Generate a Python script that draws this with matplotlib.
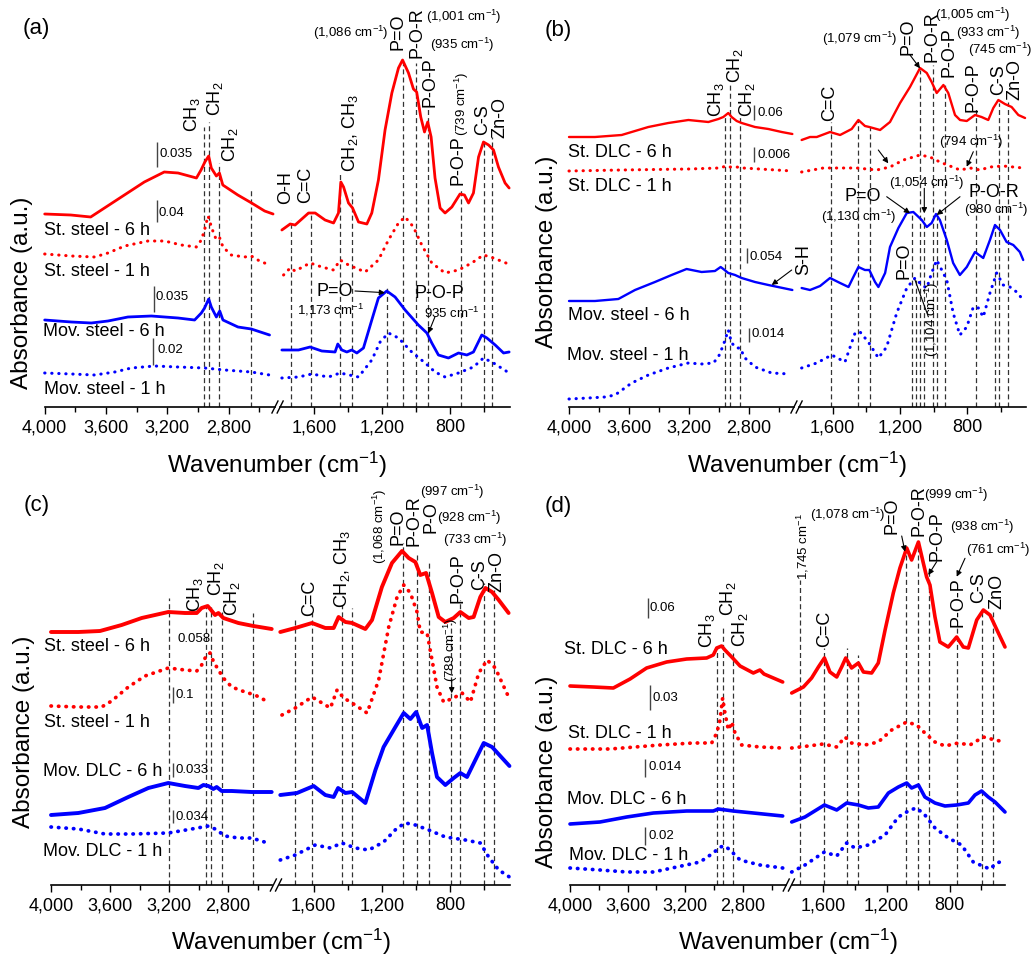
import matplotlib
matplotlib.use("Agg")
import matplotlib.pyplot as plt
from matplotlib.ticker import FixedLocator, FuncFormatter

plt.rcParams["font.family"] = ["Liberation Sans", "DejaVu Sans"]
plt.rcParams["mathtext.fontset"] = "custom"
plt.rcParams["mathtext.rm"] = "Liberation Sans"
plt.rcParams["mathtext.it"] = "Liberation Sans:italic"
plt.rcParams["mathtext.bf"] = "Liberation Sans:bold"

# ---------------- data (wavenumber in cm-1, absorbance in offset a.u.) ----------------
# panel (a)
a_st6_lw = [4000, 3830, 3700, 3610, 3480, 3350, 3220, 3130, 3010, 2980, 2955, 2930, 2913, 2880, 2860, 2838, 2740, 2650, 2565, 2510]
a_st6_ly = [193, 192, 190, 199, 212, 225, 235, 234, 229, 237, 245, 251, 239, 231, 234, 222, 212, 204, 196, 193]
a_st6_rw = [1792, 1743, 1714, 1635, 1596, 1538, 1488, 1459, 1445, 1429, 1400, 1376, 1341, 1292, 1263, 1224, 1185, 1145, 1106, 1082, 1047, 1018, 999, 975, 953, 934, 914, 891, 861, 832, 792, 744, 718, 694, 665, 635, 606, 576, 547, 518, 479, 455]
a_st6_ry = [177, 183, 182, 194, 194, 187, 184, 194, 225, 220, 204, 199, 185, 183, 194, 227, 277, 314, 339, 347, 334, 318, 315, 290, 275, 285, 270, 229, 199, 194, 200, 213, 212, 204, 214, 250, 265, 262, 257, 240, 224, 219]
a_st1_lw = [4000, 3826, 3674, 3587, 3478, 3326, 3217, 3109, 3011, 2978, 2957, 2935, 2924, 2913, 2880, 2858, 2837, 2783, 2696, 2652, 2598, 2533]
a_st1_ly = [153, 151, 150, 154, 161, 166, 166, 162, 160, 167, 177, 191, 187, 180, 167, 169, 160, 152, 150, 151, 146, 142]
a_st1_rw = [1782, 1743, 1714, 1626, 1557, 1488, 1449, 1400, 1302, 1224, 1165, 1106, 1067, 1018, 969, 910, 832, 753, 675, 606, 547, 459]
a_st1_ry = [132, 139, 136, 144, 140, 137, 147, 142, 135, 147, 167, 184, 190, 180, 162, 144, 134, 137, 144, 152, 149, 143]
a_mv6_lw = [4000, 3826, 3696, 3587, 3457, 3304, 3130, 3022, 2978, 2957, 2930, 2913, 2880, 2858, 2837, 2739, 2652, 2533]
a_mv6_ly = [87, 85, 84, 86, 90, 91, 89, 87, 94, 99, 108, 100, 90, 96, 87, 80, 78, 72]
a_mv6_rw = [1792, 1694, 1626, 1557, 1479, 1463, 1439, 1410, 1381, 1351, 1312, 1263, 1224, 1175, 1126, 1067, 989, 939, 910, 871, 812, 753, 704, 665, 616, 586, 537, 488, 455]
a_mv6_ry = [57, 57, 60, 56, 55, 63, 57, 55, 57, 54, 59, 87, 109, 116, 110, 97, 82, 74, 64, 52, 49, 54, 52, 55, 72, 69, 62, 54, 55]
a_mv1_lw = [4000, 3826, 3674, 3543, 3435, 3283, 3130, 2957, 2826, 2652, 2533]
a_mv1_ly = [34, 33, 32, 35, 39, 41, 40, 39, 37, 35, 32]
a_mv1_rw = [1792, 1694, 1616, 1518, 1449, 1341, 1263, 1214, 1165, 1106, 1028, 949, 891, 832, 753, 665, 606, 547, 455]
a_mv1_ry = [29, 30, 33, 30, 34, 30, 47, 65, 74, 69, 55, 44, 35, 30, 34, 40, 49, 44, 34]

# panel (b)
b_st6_lw = [4000, 3827, 3649, 3471, 3338, 3204, 3071, 3004, 2971, 2938, 2916, 2882, 2849, 2760, 2671, 2582, 2511]
b_st6_ly = [270, 270, 272, 280, 284, 287, 285, 288, 290, 294, 290, 286, 284, 280, 278, 275, 273]
b_st6_rw = [1785, 1735, 1695, 1616, 1556, 1487, 1447, 1408, 1382, 1318, 1259, 1199, 1140, 1080, 1040, 1011, 981, 941, 912, 872, 842, 802, 753, 714, 674, 644, 614, 575, 535, 495, 455]
b_st6_ry = [267, 270, 270, 275, 272, 278, 287, 281, 280, 277, 285, 304, 320, 339, 334, 325, 314, 322, 314, 292, 287, 286, 292, 290, 287, 299, 307, 303, 300, 292, 289]
b_st1_lw = [4000, 3650, 3200, 3000, 2949, 2927, 2882, 2840, 2510]
b_st1_ly = [236, 237, 238, 239, 241, 240, 240, 239, 236]
b_st1_rw = [1785, 1656, 1457, 1338, 1259, 1179, 1080, 1021, 962, 902, 842, 782, 723, 663, 585, 466]
b_st1_ry = [235, 239, 239, 237, 240, 247, 252, 250, 245, 241, 237, 239, 237, 240, 241, 239]
b_mv6_lw = [4000, 3827, 3671, 3560, 3427, 3316, 3216, 3116, 3027, 2989, 2971, 2938, 2893, 2849, 2760, 2671, 2511]
b_mv6_ly = [106, 106, 108, 117, 125, 132, 138, 135, 136, 140, 138, 134, 132, 129, 125, 122, 117]
b_mv6_rw = [1785, 1735, 1675, 1616, 1556, 1506, 1477, 1447, 1408, 1382, 1348, 1328, 1288, 1259, 1209, 1159, 1120, 1070, 1040, 1011, 985, 962, 921, 883, 843, 802, 753, 704, 664, 634, 604, 565, 525, 486, 466]
b_mv6_ry = [119, 117, 121, 129, 124, 120, 130, 140, 137, 137, 125, 120, 134, 160, 179, 194, 195, 187, 180, 184, 193, 187, 167, 144, 132, 140, 155, 149, 167, 182, 177, 165, 162, 155, 147]
b_mv1_lw = [4000, 3871, 3760, 3693, 3582, 3471, 3338, 3204, 3116, 3038, 3004, 2971, 2938, 2916, 2882, 2860, 2827, 2760, 2649, 2527]
b_mv1_ly = [8, 9, 10, 12, 24, 32, 39, 44, 43, 44, 50, 62, 77, 64, 59, 59, 49, 40, 34, 33]
b_mv1_rw = [1785, 1695, 1606, 1527, 1467, 1437, 1388, 1328, 1279, 1219, 1159, 1110, 1070, 1040, 1011, 981, 951, 921, 883, 843, 802, 763, 733, 704, 664, 624, 585, 545, 505, 466]
b_mv1_ry = [39, 44, 52, 45, 74, 75, 65, 49, 60, 94, 119, 129, 122, 119, 134, 147, 137, 127, 94, 72, 80, 100, 99, 90, 114, 134, 122, 120, 115, 107]

# panel (c)
c_st6_lw = [4000, 3815, 3668, 3521, 3385, 3205, 3092, 3012, 2979, 2938, 2915, 2888, 2865, 2832, 2730, 2628, 2504]
c_st6_ly = [253, 253, 254, 260, 267, 273, 272, 272, 277, 279, 275, 270, 272, 267, 262, 259, 256]
c_st6_rw = [1796, 1708, 1610, 1532, 1483, 1454, 1414, 1375, 1297, 1258, 1200, 1141, 1082, 1043, 1004, 975, 941, 906, 867, 828, 779, 740, 691, 662, 623, 593, 554, 515, 457]
c_st6_ry = [253, 257, 262, 257, 257, 268, 263, 262, 256, 265, 298, 322, 334, 327, 323, 310, 312, 292, 268, 263, 267, 273, 267, 268, 288, 297, 293, 285, 272]
c_st1_lw = [4000, 3815, 3657, 3589, 3476, 3363, 3205, 3092, 3012, 2979, 2945, 2922, 2900, 2877, 2832, 2775, 2685, 2617, 2527]
c_st1_ly = [179, 178, 178, 184, 198, 209, 217, 215, 214, 220, 230, 232, 224, 218, 207, 198, 193, 190, 183]
c_st1_rw = [1786, 1708, 1610, 1551, 1502, 1463, 1424, 1375, 1287, 1219, 1160, 1111, 1072, 1033, 994, 975, 935, 906, 877, 838, 779, 730, 681, 632, 583, 535, 495, 457]
c_st1_ry = [170, 177, 188, 182, 177, 195, 187, 182, 172, 205, 258, 288, 300, 292, 273, 253, 252, 225, 198, 183, 187, 192, 183, 212, 225, 217, 202, 188]
c_mv6_lw = [4000, 3815, 3634, 3476, 3340, 3205, 3092, 3001, 2967, 2933, 2900, 2877, 2843, 2775, 2640, 2504]
c_mv6_ly = [70, 72, 77, 88, 97, 102, 99, 97, 100, 99, 96, 98, 94, 94, 93, 93]
c_mv6_rw = [1796, 1698, 1600, 1532, 1483, 1457, 1414, 1375, 1297, 1238, 1190, 1121, 1072, 1033, 999, 964, 935, 906, 877, 828, 779, 740, 701, 652, 603, 554, 495, 452]
c_mv6_ry = [90, 92, 99, 90, 88, 97, 92, 93, 82, 115, 138, 158, 172, 166, 173, 157, 160, 132, 108, 100, 107, 112, 108, 125, 142, 138, 127, 119]
c_mv1_lw = [4000, 3815, 3634, 3453, 3205, 3046, 2933, 2888, 2820, 2730, 2640, 2531]
c_mv1_ly = [58, 56, 51, 51, 52, 56, 59, 56, 49, 47, 47, 42]
c_mv1_rw = [1796, 1708, 1591, 1502, 1434, 1356, 1277, 1190, 1111, 1062, 1004, 925, 828, 711, 623, 574, 515, 452]
c_mv1_ry = [25, 30, 40, 37, 42, 37, 35, 43, 57, 62, 60, 55, 48, 45, 42, 28, 15, 8]

# panel (d)
d_st6_lw = [4000, 3838, 3699, 3583, 3468, 3329, 3190, 3051, 3005, 2981, 2947, 2924, 2877, 2819, 2727, 2681, 2653, 2588, 2523]
d_st6_ly = [199, 198, 197, 206, 217, 223, 226, 227, 230, 237, 239, 235, 228, 219, 212, 215, 211, 207, 203]
d_st6_rw = [1800, 1726, 1674, 1631, 1593, 1558, 1515, 1484, 1458, 1421, 1378, 1346, 1294, 1252, 1209, 1157, 1115, 1072, 1041, 998, 967, 946, 925, 893, 862, 809, 756, 714, 682, 629, 587, 545, 492, 450]
d_st6_ry = [192, 198, 207, 218, 227, 213, 208, 218, 227, 217, 222, 213, 212, 222, 255, 292, 317, 337, 325, 343, 322, 308, 300, 268, 243, 238, 248, 238, 237, 265, 275, 270, 252, 238]
d_st1_lw = [4000, 3722, 3375, 3144, 3016, 2981, 2958, 2940, 2924, 2900, 2877, 2854, 2808, 2681, 2523]
d_st1_ly = [136, 136, 140, 142, 142, 152, 165, 187, 172, 155, 163, 152, 140, 138, 137]
d_st1_rw = [1800, 1695, 1600, 1515, 1463, 1421, 1336, 1252, 1167, 1072, 1009, 957, 893, 830, 746, 672, 587, 513, 450]
d_st1_ry = [137, 139, 141, 138, 148, 142, 140, 143, 155, 163, 160, 152, 143, 139, 142, 140, 148, 145, 143]
d_mv6_lw = [4000, 3792, 3606, 3421, 3190, 3005, 2970, 2866, 2727, 2523]
d_mv6_ly = [61, 63, 68, 72, 74, 74, 76, 74, 72, 69]
d_mv6_rw = [1800, 1716, 1593, 1515, 1452, 1378, 1315, 1252, 1188, 1125, 1072, 1041, 998, 957, 893, 830, 756, 682, 640, 598, 556, 513, 450]
d_mv6_ry = [63, 68, 80, 75, 82, 80, 77, 78, 92, 98, 102, 97, 100, 88, 82, 79, 80, 82, 90, 94, 88, 83, 73]
d_mv1_lw = [4000, 3792, 3606, 3421, 3259, 3097, 3005, 2958, 2924, 2889, 2819, 2681, 2523]
d_mv1_ly = [17, 15, 13, 13, 18, 23, 32, 38, 39, 35, 25, 20, 17]
d_mv1_rw = [1800, 1716, 1593, 1515, 1452, 1399, 1315, 1209, 1125, 1051, 1009, 957, 893, 809, 725, 651, 577, 545, 503, 461]
d_mv1_ry = [13, 20, 33, 29, 42, 37, 40, 50, 68, 75, 77, 70, 57, 47, 40, 23, 18, 16, 22, 24]

# band marker lines: wavenumber and top (a.u.)
a_lines_l = [2963, 2928, 2863, 2656]
a_tops_l = [280, 285, 244, 217]
a_lines_r = [1739, 1620, 1449, 1381, 1175, 1082, 1001, 935, 739, 602, 553]
a_tops_r = [187, 194, 234, 215, 120, 345, 344, 300, 217, 265, 270]
b_lines_l = [2960, 2927, 2860]
b_tops_l = [290, 324, 290]
b_lines_r = [1612, 1448, 1380, 1130, 1104, 1079, 1054, 1005, 980, 933, 745, 635, 610, 555]
b_tops_r = [285, 287, 280, 194, 127, 337, 190, 342, 190, 324, 299, 180, 304, 305]
c_lines_l = [3200, 2950, 2915, 2840, 2630]
c_tops_l = [287, 280, 278, 273, 272]
c_lines_r = [1712, 1610, 1434, 1375, 1075, 995, 926, 793, 740, 600, 540]
c_tops_r = [268, 272, 280, 277, 342, 330, 323, 262, 285, 302, 295]
d_lines_l = [2980, 2935, 2870]
d_tops_l = [238, 260, 232]
d_lines_r = [1750, 1595, 1452, 1378, 1075, 999, 933, 755, 598, 524]
d_tops_r = [305, 237, 237, 230, 338, 342, 312, 258, 275, 273]

# scale bars: wavenumber, bottom, top (a.u.), label
a_bars = [(3269, 240, 265, "0.035"), (3269, 185, 207, "0.04"), (3287, 95, 121, "0.035"), (3296, 42, 69, "0.02")]
b_bars = [(2765, 287, 302, "0.06"), (2765, 245, 260, "0.006"), (2811, 144, 159, "0.054"), (2800, 65, 79, "0.014")]
c_bars = [(3171, 182, 198, "0.1"), (3171, 108, 122, "0.033"), (3175, 62, 75, "0.034")]
d_bars = [(3456, 267, 287, "0.06"), (3444, 175, 200, "0.03"), (3479, 108, 126, "0.014"), (3479, 40, 58, "0.02")]

RED = "#ff0000"
BLUE = "#0000ff"
W, H = 1031, 956

fig = plt.figure(figsize=(W / 100, H / 100), dpi=100)

# panel geometry in pixels: left segment, right segment, baseline, top, line widths, dot pattern
geom = {
    "a": ((44.7, 274.6), (280.5, 510.0), 407, 0, 2.0, 2.2, (0, (0.1, 2.2))),
    "b": ((569.0, 794.0), (799.1, 1025.9), 407, 0, 1.7, 2.2, (0, (0.1, 2.2))),
    "c": ((51.0, 272.3), (279.6, 509.8), 885, 480, 2.8, 2.7, (0, (0.1, 1.9))),
    "d": ((570.0, 786.0), (791.7, 1005.0), 885, 480, 2.6, 2.7, (0, (0.1, 1.9))),
}

curves = {
    "a": [(RED, "-", a_st6_lw, a_st6_ly, a_st6_rw, a_st6_ry), (RED, ":", a_st1_lw, a_st1_ly, a_st1_rw, a_st1_ry),
          (BLUE, "-", a_mv6_lw, a_mv6_ly, a_mv6_rw, a_mv6_ry), (BLUE, ":", a_mv1_lw, a_mv1_ly, a_mv1_rw, a_mv1_ry)],
    "b": [(RED, "-", b_st6_lw, b_st6_ly, b_st6_rw, b_st6_ry), (RED, ":", b_st1_lw, b_st1_ly, b_st1_rw, b_st1_ry),
          (BLUE, "-", b_mv6_lw, b_mv6_ly, b_mv6_rw, b_mv6_ry), (BLUE, ":", b_mv1_lw, b_mv1_ly, b_mv1_rw, b_mv1_ry)],
    "c": [(RED, "-", c_st6_lw, c_st6_ly, c_st6_rw, c_st6_ry), (RED, ":", c_st1_lw, c_st1_ly, c_st1_rw, c_st1_ry),
          (BLUE, "-", c_mv6_lw, c_mv6_ly, c_mv6_rw, c_mv6_ry), (BLUE, ":", c_mv1_lw, c_mv1_ly, c_mv1_rw, c_mv1_ry)],
    "d": [(RED, "-", d_st6_lw, d_st6_ly, d_st6_rw, d_st6_ry), (RED, ":", d_st1_lw, d_st1_ly, d_st1_rw, d_st1_ry),
          (BLUE, "-", d_mv6_lw, d_mv6_ly, d_mv6_rw, d_mv6_ry), (BLUE, ":", d_mv1_lw, d_mv1_ly, d_mv1_rw, d_mv1_ry)],
}
lines = {"a": (a_lines_l, a_tops_l, a_lines_r, a_tops_r), "b": (b_lines_l, b_tops_l, b_lines_r, b_tops_r),
         "c": (c_lines_l, c_tops_l, c_lines_r, c_tops_r), "d": (d_lines_l, d_tops_l, d_lines_r, d_tops_r)}
bars = {"a": a_bars, "b": b_bars, "c": c_bars, "d": d_bars}

fmt = FuncFormatter(lambda v, p: f"{int(round(v)):,}")


def make_ax(x0, x1, base, top):
    ax = fig.add_axes([x0 / W, 1 - base / H, (x1 - x0) / W, (base - top) / H])
    ax.patch.set_visible(False)
    for s in ("top", "left", "right"):
        ax.spines[s].set_visible(False)
    ax.spines["bottom"].set_linewidth(1.2)
    ax.set_yticks([])
    ax.set_ylim(0, base - top)
    ax.tick_params(axis="x", which="major", length=5, width=1, labelsize=13, pad=4)
    ax.tick_params(axis="x", which="minor", length=3.5, width=1)
    return ax


for key, (lseg, rseg, base, top, lw_s, lw_d, dot) in geom.items():
    axl = make_ax(lseg[0], lseg[1], base, top)
    axr = make_ax(rseg[0], rseg[1], base, top)
    axl.set_xlim(4000, 2500)
    axr.set_xlim(1800, 450)
    axl.xaxis.set_major_locator(FixedLocator([4000, 3600, 3200, 2800]))
    axl.xaxis.set_minor_locator(FixedLocator([3800, 3400, 3000, 2600]))
    axr.xaxis.set_major_locator(FixedLocator([1600, 1200, 800]))
    axr.xaxis.set_minor_locator(FixedLocator([1400, 1000, 600]))
    axl.xaxis.set_major_formatter(fmt)
    axr.xaxis.set_major_formatter(fmt)

    ll, tl, lr, tr = lines[key]
    axl.vlines(ll, 0, tl, colors="#333333", linewidth=0.9, linestyles=(0, (4, 2.5)), zorder=1)
    axr.vlines(lr, 0, tr, colors="#333333", linewidth=0.9, linestyles=(0, (4, 2.5)), zorder=1)

    for color, style, lw_, ly_, rw_, ry_ in curves[key]:
        if style == "-":
            kw = dict(color=color, linewidth=lw_s, solid_joinstyle="round", solid_capstyle="round")
        else:
            kw = dict(color=color, linewidth=lw_d, linestyle=dot, dash_capstyle="round")
        axl.plot(lw_, ly_, clip_on=False, zorder=3, **kw)
        axr.plot(rw_, ry_, clip_on=False, zorder=3, **kw)

    for wn, y0, y1, lab in bars[key]:
        axl.vlines(wn, y0, y1, colors="#444444", linewidth=1.0)

# ---------------- overlay for annotations in pixel space ----------------
ov = fig.add_axes([0, 0, 1, 1], facecolor="none")
ov.set_xlim(0, W)
ov.set_ylim(H, 0)
ov.axis("off")

SM = 9.5


def tx(x, y, s, size=13, rot=0, ha="center", va="center"):
    ov.text(x, y, s, fontsize=size, rotation=rot, ha=ha, va=va)


def arr(x1, y1, x2, y2):
    ov.annotate("", xy=(x2, y2), xytext=(x1, y1),
                arrowprops=dict(arrowstyle="-|>", color="black", lw=0.8, mutation_scale=8, shrinkA=0, shrinkB=0))


# break marks
for k in geom:
    lseg, rseg, base = geom[k][0], geom[k][1], geom[k][2]
    gc = (lseg[1] + rseg[0]) / 2
    for dx in (-2.6, 2.6):
        ov.plot([gc + dx - 3, gc + dx + 3], [base + 6, base - 6], color="black", lw=1.0)

# axis labels
for x, y in ((22.5, 293), (546.7, 252), (24, 732), (547, 772)):
    tx(x, y, "Absorbance (a.u.)", size=17.5, rot=90)
for x, y in ((277.5, 465), (797.5, 465), (281, 942), (788, 942)):
    tx(x, y, "Wavenumber (cm$^{-1}$)", size=17.5)

# ---- panel (a)
tx(36.7, 28.3, "(a)", size=16)
for s, x, y in (("St. steel - 6 h", 44.3, 230.7), ("St. steel - 1 h", 44.3, 271.7),
                ("Mov. steel - 6 h", 42.7, 331), ("Mov. steel - 1 h", 44.3, 389.3)):
    tx(x, y, s, ha="left")
for s, x, y in (("0.035", 160, 154), ("0.04", 158.5, 213), ("0.035", 156, 297), ("0.02", 157, 350)):
    tx(x, y, s, size=SM, ha="left")
tx(191.7, 115, "CH$_3$", rot=90)
tx(215, 99, "CH$_2$", rot=90)
tx(230.3, 145, "CH$_2$", rot=90)
tx(286, 188, "O-H", rot=90)
tx(306, 185, "C=C", rot=90)
tx(349.5, 133, "CH$_2$, CH$_3$", rot=90)
tx(351, 33, "(1,086 cm$^{-1}$)", size=SM)
tx(398.5, 32, "P=O", rot=90)
tx(416.8, 33, "P-O-R", rot=90)
tx(464, 17, "(1,001 cm$^{-1}$)", size=SM)
tx(462, 45, "(935 cm$^{-1}$)", size=SM)
tx(429.5, 82, "P-O-P", rot=90)
tx(458, 160, "P-O-P", rot=90)
tx(461.7, 104, "(739 cm$^{-1}$)", size=SM, rot=90)
tx(483, 120, "C-S", rot=90)
tx(500, 117, "Zn-O", rot=90)
tx(335, 291, "P=O")
arr(355, 291, 385, 292.7)
tx(330, 310, "1,173 cm$^{-1}$", size=SM)
tx(439, 293, "P-O-P")
tx(452, 313, "935 cm$^{-1}$", size=SM)
arr(435, 316.7, 428.3, 333.3)

# ---- panel (b)
tx(558.3, 30, "(b)", size=16)
for s, x, y in (("St. DLC - 6 h", 568.3, 152.7), ("St. DLC - 1 h", 568.3, 186.7),
                ("Mov. steel - 6 h", 568.3, 315), ("Mov. steel - 1 h", 566.7, 355)):
    tx(x, y, s, ha="left")
for s, x, y in (("0.06", 758, 113), ("0.006", 758, 155), ("0.054", 750, 256.7), ("0.014", 752, 334)):
    tx(x, y, s, size=SM, ha="left")
tx(715.7, 100, "CH$_3$", rot=90)
tx(734.7, 66, "CH$_2$", rot=90)
tx(747, 100, "CH$_2$", rot=90)
tx(803.3, 260, "S-H", rot=90)
arr(791.7, 270, 771.7, 285)
tx(830, 103.3, "C=C", rot=90)
tx(860, 39, "(1,079 cm$^{-1}$)", size=SM)
tx(907.5, 36.7, "P=O", rot=90)
arr(910, 55, 920, 68.3)
tx(931.7, 36.7, "P-O-R", rot=90)
tx(972.5, 15, "(1,005 cm$^{-1}$)", size=SM)
tx(949, 51.7, "P-O-P", rot=90)
tx(988, 33.3, "(933 cm$^{-1}$)", size=SM)
tx(1000, 50, "(745 cm$^{-1}$)", size=SM)
tx(973.3, 86.7, "P-O-P", rot=90)
tx(998.3, 80, "C-S", rot=90)
tx(1015, 79, "Zn-O", rot=90)
tx(971.7, 141.7, "(794 cm$^{-1}$)", size=SM)
arr(973.3, 151.7, 966.7, 166.7)
arr(878.3, 150, 888.3, 163.3)
tx(926.7, 182.7, "(1,054 cm$^{-1}$)", size=SM)
arr(924.3, 188.3, 924.3, 213.3)
tx(862.5, 196.7, "P=O")
arr(886.7, 196.7, 910, 213.3)
tx(858.3, 216.7, "(1,130 cm$^{-1}$)", size=SM)
tx(994, 192.7, "P-O-R")
arr(960, 196.7, 936.7, 215)
tx(996.7, 210, "(980 cm$^{-1}$)", size=SM)
tx(904, 261, "P=O", rot=90)
tx(931.7, 319, "(1,104 cm$^{-1}$)", size=SM, rot=90)
ov.plot([915, 928.3], [280, 316.7], color="black", lw=0.8)

# ---- panel (c)
tx(36.7, 505, "(c)", size=16)
for s, x, y in (("St. steel - 6 h", 44.3, 646.7), ("St. steel - 1 h", 44.3, 722.7),
                ("Mov. DLC - 6 h", 42.7, 771), ("Mov. DLC - 1 h", 42.7, 851.7)):
    tx(x, y, s, ha="left")
tx(193.7, 639.3, "0.058", size=SM)
for s, x, y in (("0.1", 176, 695), ("0.033", 175, 770), ("0.034", 175, 817.3)):
    tx(x, y, s, size=SM, ha="left")
tx(194.7, 594.2, "CH$_3$", rot=90)
tx(215.8, 578.3, "CH$_2$", rot=90)
tx(232, 598.8, "CH$_2$", rot=90)
tx(310, 598.3, "C=C", rot=90)
tx(342, 569, "CH$_2$, CH$_3$", rot=90)
tx(380, 526.2, "(1,068 cm$^{-1}$)", size=SM, rot=90)
tx(398.5, 526.7, "P=O", rot=90)
tx(414.5, 520.8, "P-O-R", rot=90)
tx(452.5, 491.7, "(997 cm$^{-1}$)", size=SM)
tx(431, 517, "P-O", rot=90)
tx(469, 518.3, "(928 cm$^{-1}$)", size=SM)
tx(475, 540, "(733 cm$^{-1}$)", size=SM)
tx(458.3, 578.3, "P-O-P", rot=90)
tx(480, 574.5, "C-S", rot=90)
tx(496.7, 571.7, "Zn-O", rot=90)
tx(450.8, 650, "(789 cm$^{-1}$)", size=SM, rot=90)
arr(451.7, 680, 451.7, 693.3)

# ---- panel (d)
tx(558.3, 506.7, "(d)", size=16)
for s, x, y in (("St. DLC - 6 h", 564.3, 650), ("St. DLC - 1 h", 567.7, 733.3),
                ("Mov. DLC - 6 h", 566.7, 800), ("Mov. DLC - 1 h", 569.3, 856)):
    tx(x, y, s, ha="left")
for s, x, y in (("0.06", 650, 608.3), ("0.03", 652.7, 698.3), ("0.014", 648.3, 766.7), ("0.02", 648.3, 836)):
    tx(x, y, s, size=SM, ha="left")
tx(707, 630.8, "CH$_3$", rot=90)
tx(728.3, 598.3, "CH$_2$", rot=90)
tx(740, 630, "CH$_2$", rot=90)
tx(802.7, 546.7, "1,745 cm$^{-1}$", size=SM, rot=90)
tx(825, 629.2, "C=C", rot=90)
tx(848, 515, "(1,078 cm$^{-1}$)", size=SM)
tx(892, 515.8, "P=O", rot=90)
arr(901.7, 536, 905, 551.7)
tx(918.7, 510.8, "P-O-R", rot=90)
tx(956, 495, "(999 cm$^{-1}$)", size=SM)
tx(937.2, 536.2, "P-O-P", rot=90)
arr(936.7, 561.7, 928.3, 575)
tx(982.7, 526.7, "(938 cm$^{-1}$)", size=SM)
tx(998.3, 550, "(761 cm$^{-1}$)", size=SM)
tx(957.5, 601.7, "P-O-P", rot=90)
arr(965, 558.3, 956.7, 576.7)
tx(978.3, 587.5, "C-S", rot=90)
tx(996.7, 591.7, "ZnO", rot=90)

fig.savefig("out.png", dpi=100)
